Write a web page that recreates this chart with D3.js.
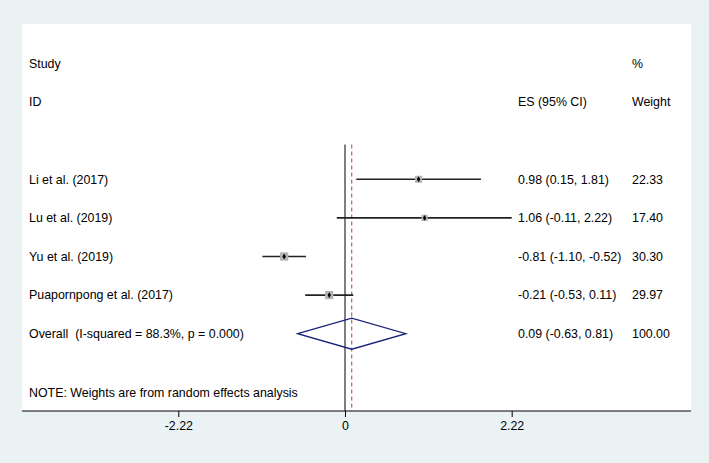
<!DOCTYPE html>
<html>
<head>
<meta charset="utf-8">
<script src="https://cdn.jsdelivr.net/npm/d3@7"></script>
<style>
  body { margin: 0; background: #eaf2f3; }
  svg { display: block; }
  text { font-family: "Liberation Sans", Arial, Helvetica, sans-serif; font-size: 12.4px; fill: #000; }
</style>
</head>
<body>
<div id="plot"></div>
<script>
// data
var studies = ["Li et al. (2017)", "Lu et al. (2019)", "Yu et al. (2019)", "Puapornpong et al. (2017)"];
var es = [0.98, 1.06, -0.81, -0.21];
var lo = [0.15, -0.11, -1.10, -0.53];
var hi = [1.81, 2.22, -0.52, 0.11];
var weights = ["22.33", "17.40", "30.30", "29.97"];
var overallLabel = "Overall  (I-squared = 88.3%, p = 0.000)";
var overall = [0.09, -0.63, 0.81];
var overallWeight = "100.00";
var tickValues = [-2.22, 0, 2.22];
var tickLabels = ["-2.22", "0", "2.22"];
var note = "NOTE: Weights are from random effects analysis";

var width = 709, height = 463;
var panel = {left: 22, top: 24, right: 691, bottom: 411};

var svg = d3.select("#plot").append("svg")
  .attr("width", width)
  .attr("height", height);

//background + white plot area
svg.append("rect").attr("width", width).attr("height", height).attr("fill", "#eaf2f3");
svg.append("rect")
  .attr("x", panel.left).attr("y", panel.top)
  .attr("width", panel.right - panel.left).attr("height", panel.bottom - panel.top)
  .attr("fill", "#fff");

//scales
var x = d3.scaleLinear().domain([-2.22, 2.22]).range([178.3, 511.7]);
var row = d3.scaleLinear().domain([0, 1]).range([63.5, 102.1]); // row index -> y

// plain hyphen for negatives, like the stata output
var fmt = function (v) { return v.toFixed(2); };
var ciText = function (e, l, h) { return fmt(e) + " (" + fmt(l) + ", " + fmt(h) + ")"; };

//headers
var colStudy = 29, colES = 518, colW = 632;
function label(txt, xx, yy) {
  return svg.append("text")
    .attr("x", xx).attr("y", yy).attr("dy", "0.35em")
    .attr("xml:space", "preserve")
    .style("white-space", "pre")
    .text(txt);
}
label("Study", colStudy, row(0));
label("ID", colStudy, row(1));
label("%", colW, row(0));
label("Weight", colW, row(1));
label("ES (95% CI)", colES, row(1));

//reference lines
var lineTop = row(2.1);
svg.append("line")
  .attr("x1", x(0)).attr("x2", x(0))
  .attr("y1", lineTop).attr("y2", panel.bottom)
  .attr("stroke", "#000").attr("stroke-width", 1);
svg.append("line")
  .attr("x1", x(overall[0])).attr("x2", x(overall[0]))
  .attr("y1", lineTop).attr("y2", panel.bottom)
  .attr("stroke", "#a8403c").attr("stroke-width", 1)
  .attr("stroke-dasharray", "4,3");

//studies
var rows = studies.map(function (s, i) {
  return {name: s, es: es[i], lo: lo[i], hi: hi[i], w: weights[i], y: row(3 + i)};
});

var g = svg.append("g");
g.selectAll(".ci").data(rows).enter().append("line")
  .attr("x1", function (d) { return x(d.lo); })
  .attr("x2", function (d) { return x(d.hi); })
  .attr("y1", function (d) { return d.y; })
  .attr("y2", function (d) { return d.y; })
  .attr("stroke", "#222").attr("stroke-width", 1.6);

g.selectAll(".box").data(rows).enter().append("rect")
  .attr("x", function (d) { return x(d.es) - 0.75 * Math.sqrt(+d.w); })
  .attr("y", function (d) { return d.y - 0.75 * Math.sqrt(+d.w); })
  .attr("width", function (d) { return 1.5 * Math.sqrt(+d.w); })
  .attr("height", function (d) { return 1.5 * Math.sqrt(+d.w); })
  .attr("fill", "#b4b4b4");

g.selectAll(".pt").data(rows).enter().append("path")
  .attr("d", d3.symbol().type(d3.symbolDiamond).size(10))
  .attr("transform", function (d) { return "translate(" + x(d.es) + "," + d.y + ")"; })
  .attr("fill", "#000");

rows.forEach(function (d) {
  label(d.name, colStudy, d.y);
  label(ciText(d.es, d.lo, d.hi), colES, d.y);
  label(d.w, colW, d.y);
});

//overall
var yo = row(3 + studies.length);
var half = 15.5;
svg.append("path")
  .attr("d", "M" + x(overall[1]) + "," + yo +
             "L" + x(overall[0]) + "," + (yo - half) +
             "L" + x(overall[2]) + "," + yo +
             "L" + x(overall[0]) + "," + (yo + half) + "Z")
  .attr("fill", "none").attr("stroke", "#1c237a").attr("stroke-width", 1.3);
label(overallLabel, colStudy, yo);
label(ciText(overall[0], overall[1], overall[2]), colES, yo);
label(overallWeight, colW, yo);

//note
label(note, colStudy, 393);

//x axis
svg.append("line")
  .attr("x1", panel.left).attr("x2", panel.right)
  .attr("y1", panel.bottom).attr("y2", panel.bottom)
  .attr("stroke", "#000").attr("stroke-width", 1);
var axis = svg.append("g")
  .attr("transform", "translate(0," + panel.bottom + ")")
  .call(d3.axisBottom(x).tickValues(tickValues).tickSize(6).tickPadding(4)
    .tickFormat(function (d, i) { return tickLabels[i]; }));
axis.select(".domain").remove();
axis.selectAll("line").attr("stroke", "#000");
axis.selectAll("text")
  .style("font-family", "'Liberation Sans', Arial, sans-serif")
  .style("font-size", "12.4px")
  .attr("fill", "#000");
</script>
</body>
</html>
